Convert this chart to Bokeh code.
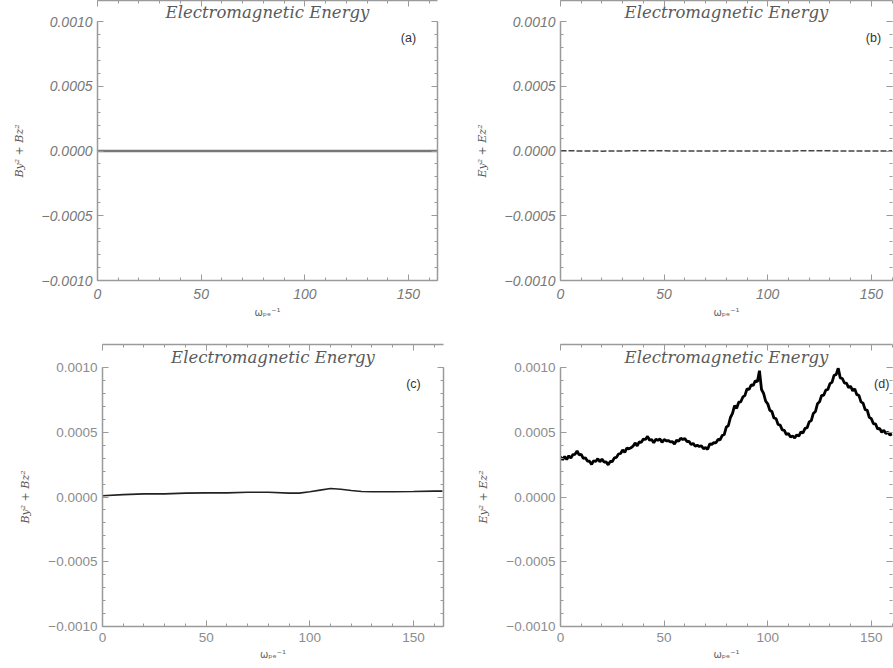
from bokeh.plotting import figure
from bokeh.layouts import column, row
from bokeh.models import (Range1d, LinearAxis, FixedTicker, CustomJSTickFormatter,
                          Label, Title, ColumnDataSource)
from bokeh.embed import file_html
from bokeh.resources import INLINE

TITLE = "Electromagnetic Energy"
X_LABEL = "ωₚₑ⁻¹"
Y_LABEL_B = "By² + Bz²"
Y_LABEL_E = "Ey² + Ez²"
TAGS = ["(a)", "(b)", "(c)", "(d)"]
X_TICKS = [0, 50, 100, 150]
X_MINOR = [0, 10, 20, 30, 40, 50, 60, 70, 80, 90, 100, 110, 120, 130, 140, 150, 160]
Y_TICKS = [-0.0010, -0.0005, 0.0, 0.0005, 0.0010]
Y_MINOR = [-0.0010, -0.0009, -0.0008, -0.0007, -0.0006, -0.0005, -0.0004, -0.0003,
           -0.0002, -0.0001, 0.0, 0.0001, 0.0002, 0.0003, 0.0004, 0.0005, 0.0006,
           0.0007, 0.0008, 0.0009, 0.0010]

# (a) B_y^2 + B_z^2, first run
t_a = [0, 164]
b_a = [0.0, 0.0]

# (b) E_y^2 + E_z^2, first run
t_b = [0, 20, 40, 60, 80, 100, 120, 140, 160]
e_b = [2e-6, -1e-6, 2e-6, 0.0, 1e-6, -1e-6, 2e-6, 0.0, 1e-6]

# (c) B_y^2 + B_z^2, second run
t_c = [0, 10, 20, 30, 40, 50, 60, 70, 80, 90, 95, 100, 105, 110, 115, 120, 125,
       130, 140, 150, 160, 164]
b_c = [1.0e-5, 1.8e-5, 2.4e-5, 2.4e-5, 3.0e-5, 3.2e-5, 3.2e-5, 3.7e-5, 3.7e-5,
       3.0e-5, 3.0e-5, 4.0e-5, 5.3e-5, 6.6e-5, 6.0e-5, 5.0e-5, 4.2e-5, 4.0e-5,
       4.0e-5, 4.2e-5, 4.5e-5, 4.5e-5]

# (d) E_y^2 + E_z^2, second run (one value per time unit, 0..160)
t_d = list(range(0, 161))
e_d = [
    3.10e-4, 2.88e-4, 3.12e-4, 2.90e-4, 3.18e-4, 3.00e-4, 3.28e-4, 3.30e-4, 3.55e-4, 3.25e-4,
    3.30e-4, 2.98e-4, 3.02e-4, 2.78e-4, 2.76e-4, 2.52e-4, 2.80e-4, 2.74e-4, 2.96e-4, 2.72e-4,
    2.92e-4, 2.70e-4, 2.72e-4, 2.48e-4, 2.74e-4, 2.74e-4, 3.02e-4, 3.06e-4, 3.32e-4, 3.36e-4,
    3.64e-4, 3.44e-4, 3.78e-4, 3.72e-4, 3.80e-4, 3.92e-4, 4.18e-4, 3.94e-4, 4.26e-4, 4.22e-4,
    4.48e-4, 4.44e-4, 4.68e-4, 4.38e-4, 4.44e-4, 4.18e-4, 4.46e-4, 4.38e-4, 4.48e-4, 4.22e-4,
    4.44e-4, 4.34e-4, 4.36e-4, 4.26e-4, 4.28e-4, 4.08e-4, 4.38e-4, 4.30e-4, 4.54e-4, 4.44e-4,
    4.52e-4, 4.28e-4, 4.30e-4, 4.06e-4, 4.14e-4, 3.92e-4, 4.00e-4, 3.90e-4, 3.96e-4, 3.72e-4,
    3.82e-4, 3.68e-4, 4.10e-4, 4.06e-4, 4.20e-4, 4.18e-4, 4.44e-4, 4.42e-4, 4.74e-4, 4.82e-4,
    5.40e-4, 5.52e-4, 6.14e-4, 6.45e-4, 7.05e-4, 6.85e-4, 7.32e-4, 7.35e-4, 7.72e-4, 7.85e-4,
    8.35e-4, 8.30e-4, 8.65e-4, 8.62e-4, 8.98e-4, 8.90e-4, 9.75e-4, 8.30e-4, 8.00e-4, 7.40e-4,
    7.20e-4, 6.70e-4, 6.60e-4, 6.10e-4, 6.05e-4, 5.60e-4, 5.55e-4, 5.18e-4, 5.15e-4, 4.82e-4,
    4.90e-4, 4.62e-4, 4.72e-4, 4.55e-4, 4.80e-4, 4.70e-4, 5.02e-4, 4.95e-4, 5.30e-4, 5.35e-4,
    5.80e-4, 5.90e-4, 6.45e-4, 6.60e-4, 7.20e-4, 7.35e-4, 7.85e-4, 7.85e-4, 8.25e-4, 8.30e-4,
    8.75e-4, 8.85e-4, 9.40e-4, 9.45e-4, 9.95e-4, 9.20e-4, 9.15e-4, 8.80e-4, 8.80e-4, 8.45e-4,
    8.55e-4, 8.20e-4, 8.35e-4, 7.90e-4, 7.85e-4, 7.35e-4, 7.25e-4, 6.75e-4, 6.70e-4, 6.15e-4,
    6.05e-4, 5.65e-4, 5.65e-4, 5.25e-4, 5.30e-4, 5.00e-4, 5.15e-4, 4.90e-4, 5.00e-4, 4.78e-4,
    4.86e-4,
]

AX_COLOR = "#9a9a9a"
FMT = CustomJSTickFormatter(code="return (tick < -1e-12 ? '\u2212' : '') + Math.abs(tick).toFixed(4);")
BLANK = CustomJSTickFormatter(code="return '';")


def style_axis(ax, line=True):
    ax.axis_line_color = AX_COLOR if line else None
    ax.axis_line_width = 1.5
    ax.major_tick_line_color = AX_COLOR
    ax.major_tick_line_width = 1
    ax.major_tick_in = 6
    ax.major_tick_out = 0
    ax.minor_tick_line_color = AX_COLOR
    ax.minor_tick_in = 3
    ax.minor_tick_out = 0


def make_panel(width, height, bl, br, bt, bb, x_end, italic, ylab, tag, tag_x, right_line,
               lab_standoff, axlab_standoff, title_standoff):
    p = figure(width=width, height=height, x_range=Range1d(0, x_end),
               y_range=Range1d(-0.001, 0.001), output_backend="svg",
               toolbar_location=None, x_axis_type=None, y_axis_type=None,
               min_border_left=bl, min_border_right=br, min_border_top=bt,
               min_border_bottom=bb, title=None)
    p.outline_line_color = None
    p.background_fill_color = "white"
    p.border_fill_color = "white"

    xt = FixedTicker(ticks=X_TICKS, minor_ticks=X_MINOR)
    yt = FixedTicker(ticks=Y_TICKS, minor_ticks=Y_MINOR)

    if italic:
        tfont, tstyle, tsize, tcolor = "Liberation Sans", "italic", "14px", "#777777"
    else:
        tfont, tstyle, tsize, tcolor = "Liberation Sans", "normal", "13.5px", "#8c8c8c"

    p.add_layout(Title(text=TITLE, align="center", text_font="DejaVu Serif",
                       text_font_style="italic", text_font_size="16.5px",
                       text_color="#5a5a5a", standoff=title_standoff, offset=4), "above")

    xb = LinearAxis(ticker=xt, axis_label=X_LABEL)
    style_axis(xb)
    xb.major_label_text_font = tfont
    xb.major_label_text_font_style = tstyle
    xb.major_label_text_font_size = tsize
    xb.major_label_text_color = tcolor
    xb.major_label_standoff = lab_standoff
    xb.axis_label_standoff = axlab_standoff
    xb.axis_label_text_font = "DejaVu Sans"
    xb.axis_label_text_font_style = "normal"
    xb.axis_label_text_font_size = "10px"
    xb.axis_label_text_color = "#666666"
    p.add_layout(xb, "below")

    yl = LinearAxis(ticker=yt, formatter=FMT, axis_label=ylab)
    style_axis(yl)
    yl.major_label_text_font = tfont
    yl.major_label_text_font_style = tstyle
    yl.major_label_text_font_size = tsize
    yl.major_label_text_color = tcolor
    yl.major_label_standoff = 5
    yl.axis_label_standoff = 13
    yl.axis_label_text_font = "DejaVu Serif"
    yl.axis_label_text_font_style = "italic"
    yl.axis_label_text_font_size = "11px"
    yl.axis_label_text_color = "#555555"
    p.add_layout(yl, "left")

    xa = LinearAxis(ticker=xt, formatter=BLANK, major_label_standoff=0)
    style_axis(xa)
    p.add_layout(xa, "above")

    yr = LinearAxis(ticker=yt, formatter=BLANK, major_label_standoff=0)
    style_axis(yr, line=right_line)
    p.add_layout(yr, "right")

    p.add_layout(Label(x=tag_x, y=0.00087, text=tag, text_align="center",
                       text_baseline="middle", text_font="Liberation Sans",
                       text_font_size="12.5px", text_color="#333333"))
    return p


pa = make_panel(470, 340, 97, 33, 21, 60, 164.0, True, Y_LABEL_B, TAGS[0], 150, True, 8, 5, 0)
pa.line(x="t", y="v", source=ColumnDataSource(dict(t=t_a, v=b_a)),
        line_color="#777777", line_width=2.5)

pb = make_panel(423, 340, 90, 1, 21, 60, 160.2, True, Y_LABEL_E, TAGS[1], 151, False, 8, 5, 0)
pb.line(x="t", y="v", source=ColumnDataSource(dict(t=t_b, v=e_b)),
        line_color="#444444", line_width=1.5, line_dash="6 2")

pc = make_panel(470, 328, 102, 27, 27, 42, 164.5, False, Y_LABEL_B, TAGS[2], 150, True, 6, 4, 2)
pc.line(x="t", y="v", source=ColumnDataSource(dict(t=t_c, v=b_c)),
        line_color="#222222", line_width=1.6)

pd = make_panel(423, 328, 90, 1, 27, 42, 160.2, False, Y_LABEL_E, TAGS[3], 155, False, 6, 4, 2)
pd.line(x="t", y="v", source=ColumnDataSource(dict(t=t_d, v=e_d)),
        line_color="#000000", line_width=2.8)

layout = column(row(pa, pb), row(pc, pd))

with open("out.html", "w", encoding="utf-8") as f:
    f.write(file_html(layout, INLINE))
